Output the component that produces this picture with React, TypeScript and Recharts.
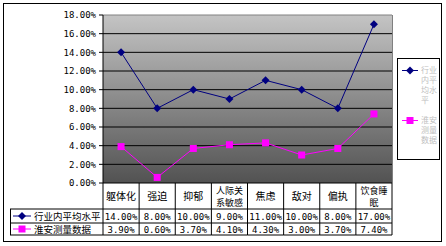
import { CartesianGrid, Line, LineChart, ReferenceLine, XAxis, YAxis } from 'recharts';

// SCL-90 factor comparison
const categories = ['躯体化', '强迫', '抑郁', '人际关系敏感', '焦虑', '敌对', '偏执', '饮食睡眠'];
const industryAvg = [14.0, 8.0, 10.0, 9.0, 11.0, 10.0, 8.0, 17.0];
const huaianData = [3.9, 0.6, 3.7, 4.1, 4.3, 3.0, 3.7, 7.4];
const seriesNames = ['行业内平均水平', '淮安测量数据'];
const yTicks = [0, 2, 4, 6, 8, 10, 12, 14, 16, 18];

const data = categories.map((name, i) => ({
  name,
  avg: industryAvg[i],
  huaian: huaianData[i],
}));

const NAVY = '#000080';
const MAGENTA = '#FF00FF';
const CJK = '"Noto Sans CJK SC", sans-serif';
const MONO = '"DejaVu Sans Mono", monospace';
const COL = 289 / 8;

const fmt = (v: number) => v.toFixed(2) + '%';

const chunk = (s: string, n: number) => {
  const out: string[] = [];
  for (let i = 0; i < s.length; i += n) out.push(s.slice(i, i + n));
  return out;
};

const Diamond = ({ cx, cy }: any) => (
  <polygon points={`${cx},${cy - 4} ${cx + 4},${cy} ${cx},${cy + 4} ${cx - 4},${cy}`} fill={NAVY} />
);

const Square = ({ cx, cy }: any) => <rect x={cx - 3.5} y={cy - 3.5} width={7} height={7} fill={MAGENTA} />;

// x axis ticks draw the data table below the plot
const TableTick = (props: any) => {
  const { x, y, payload, index } = props;
  const half = COL / 2;
  const l = x - half;
  const r = x + half;
  const r1 = y + 26;
  const r2 = y + 40;
  const r3 = y + 52;
  const lines = chunk(payload.value as string, 3);
  const row = data[index];
  return (
    <g>
      {lines.map((t, i) => (
        <text
          key={t}
          x={x}
          y={lines.length === 1 ? y + 17 : y + 11 + i * 11.5}
          textAnchor="middle"
          fontSize={lines.length === 1 ? 10 : 9}
          fontFamily={CJK}
          fill="#000"
        >
          {t}
        </text>
      ))}
      <text x={x} y={r1 + 11} textAnchor="middle" fontSize={9} fontFamily={MONO} fill="#000">
        {fmt(row.avg)}
      </text>
      <text x={x} y={r2 + 10} textAnchor="middle" fontSize={9} fontFamily={MONO} fill="#000">
        {fmt(row.huaian)}
      </text>
      <line x1={r} y1={y} x2={r} y2={r3} stroke="#000" />
      <line x1={l} y1={r1} x2={r} y2={r1} stroke="#000" />
      <line x1={l} y1={r2} x2={r} y2={r2} stroke="#000" />
      <line x1={l} y1={r3} x2={r} y2={r3} stroke="#000" />
      {index === 0 && (
        <g>
          <line x1={l} y1={y} x2={l} y2={r3} stroke="#000" />
          <line x1={10} y1={r1} x2={l} y2={r1} stroke="#000" />
          <line x1={10} y1={r2} x2={l} y2={r2} stroke="#000" />
          <line x1={10} y1={r3} x2={l} y2={r3} stroke="#000" />
          <line x1={10.5} y1={r1} x2={10.5} y2={r3} stroke="#000" />
          <line x1={13} y1={r1 + 7} x2={31} y2={r1 + 7} stroke={NAVY} />
          <Diamond cx={22} cy={r1 + 7} />
          <text x={34} y={r1 + 11} fontSize={9.5} fontFamily={CJK} fill="#000">
            {seriesNames[0]}
          </text>
          <line x1={13} y1={r2 + 6} x2={31} y2={r2 + 6} stroke={MAGENTA} />
          <Square cx={22} cy={r2 + 6} />
          <text x={34} y={r2 + 10} fontSize={9.5} fontFamily={CJK} fill="#000">
            {seriesNames[1]}
          </text>
        </g>
      )}
    </g>
  );
};

const LegendBox = () => (
  <svg width={44} height={104} style={{ position: 'absolute', left: 397, top: 58 }}>
    <rect x={0.5} y={0.5} width={42} height={101} fill="#fff" stroke="#000" />
    <line x1={5} y1={12.5} x2={21} y2={12.5} stroke={NAVY} />
    <Diamond cx={13} cy={12.5} />
    {chunk(seriesNames[0], 2).map((t, i) => (
      <text key={t} x={24} y={15 + i * 10} fontSize={8} fontFamily={CJK} fill="#c0c0c0">
        {t}
      </text>
    ))}
    <line x1={5} y1={62.5} x2={21} y2={62.5} stroke={MAGENTA} />
    <Square cx={13} cy={62.5} />
    {chunk(seriesNames[1], 2).map((t, i) => (
      <text key={t} x={24} y={65 + i * 10} fontSize={8} fontFamily={CJK} fill="#c0c0c0">
        {t}
      </text>
    ))}
  </svg>
);

export default function App() {
  return (
    <div style={{ position: 'absolute', left: 0, top: 0, width: 446, height: 246, background: '#fff' }}>
      <svg width={0} height={0} style={{ position: 'absolute' }}>
        <defs>
          <linearGradient id="plotBg" x1="0" y1="0" x2="0" y2="1">
            <stop offset="0%" stopColor="#c4c4c4" />
            <stop offset="100%" stopColor="#525252" />
          </linearGradient>
        </defs>
      </svg>
      <LineChart
        width={446}
        height={246}
        data={data}
        margin={{ top: 15, right: 54, bottom: 11, left: 43 }}
      >
        <CartesianGrid
          vertical={false}
          stroke="#000"
          fill="url(#plotBg)"
          fillOpacity={1}
          horizontalValues={yTicks.slice(1, -1)}
        />
        <ReferenceLine y={18} stroke="#808080" />
        <XAxis
          dataKey="name"
          interval={0}
          height={52}
          padding={{ left: COL / 2, right: COL / 2 }}
          tickSize={0}
          tickMargin={0}
          tickLine={false}
          axisLine={{ stroke: '#000' }}
          tick={<TableTick />}
        />
        <YAxis
          width={60}
          domain={[0, 18]}
          ticks={yTicks}
          interval={0}
          tickFormatter={fmt}
          tickSize={4}
          tickMargin={3}
          axisLine={{ stroke: '#000' }}
          tickLine={{ stroke: '#000' }}
          tick={{ fontSize: 9, fontFamily: MONO, fill: '#000' }}
        />
        <Line
          dataKey="avg"
          name={seriesNames[0]}
          stroke={NAVY}
          strokeWidth={1}
          dot={<Diamond />}
          isAnimationActive={false}
        />
        <Line
          dataKey="huaian"
          name={seriesNames[1]}
          stroke={MAGENTA}
          strokeWidth={1}
          dot={<Square />}
          isAnimationActive={false}
        />
      </LineChart>
      <LegendBox />
      <svg width={446} height={246} style={{ position: 'absolute', left: 0, top: 0, pointerEvents: 'none' }}>
        <rect x={3.5} y={3.5} width={438} height={238} fill="none" stroke="#000" />
        <line x1={392.5} y1={15} x2={392.5} y2={183} stroke="#808080" />
      </svg>
    </div>
  );
}
